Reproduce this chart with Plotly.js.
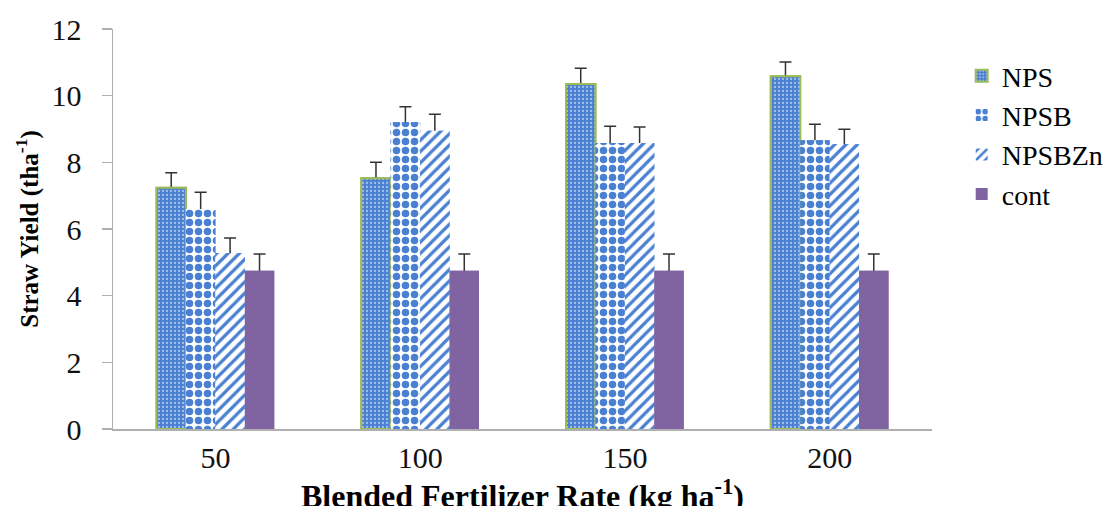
<!DOCTYPE html>
<html>
<head>
<meta charset="utf-8">
<script src="https://cdn.plot.ly/plotly-3.0.1.min.js"></script>
<style>
html,body{margin:0;padding:0;background:#fff;}
#chart{width:1120px;height:506px;}
</style>
</head>
<body>
<div id="chart"></div>
<script>
const categories = ["50", "100", "150", "200"];
const npsValues = [7.24, 7.52, 10.35, 10.58];
const npsbValues = [6.6, 9.2, 8.58, 8.66];
const npsbznValues = [5.28, 8.95, 8.58, 8.54];
const contValues = [4.75, 4.75, 4.75, 4.75];
const npsErr = [0.45, 0.48, 0.47, 0.43];
const npsbErr = [0.5, 0.47, 0.5, 0.48];
const npsbznErr = [0.45, 0.49, 0.48, 0.45];
const contErr = [0.5, 0.5, 0.5, 0.5];
const seriesNames = ["NPS", "NPSB", "NPSBZn", "cont"];
const xTitle = "<b>Blended Fertilizer Rate (kg ha<sup>-1</sup>)</b>";
const yTitle = "<b>Straw Yield (tha<sup>-1</sup>)</b>";

const blue = "#4a80d2";

const markers = [
  {color: blue, line: {color: "#9bbb59", width: 2},
   pattern: {shape: ".", fgcolor: "#ffffff", bgcolor: blue, size: 4, solidity: 0.25, fillmode: "overlay"}},
  {color: "#ffffff", line: {width: 0},
   pattern: {shape: ".", fgcolor: blue, bgcolor: "#ffffff", size: 9, solidity: 0.55, fillmode: "replace"}},
  {color: "#ffffff", line: {width: 0},
   pattern: {shape: "/", fgcolor: blue, bgcolor: "#ffffff", size: 8, solidity: 0.4, fillmode: "replace"}},
  {color: "#8064a2", line: {width: 0}}
];
const values = [npsValues, npsbValues, npsbznValues, contValues];
const errs = [npsErr, npsbErr, npsbznErr, contErr];

const traces = [];
// bottom layer: bars carrying the error bars (lower arm reaches the baseline, hidden by top layer)
for (let i = 0; i < 4; i++) {
  traces.push({type: "bar", name: seriesNames[i], x: categories, y: values[i], offsetgroup: String(i),
    marker: markers[i],
    error_y: {type: "data", symmetric: false, array: errs[i], arrayminus: values[i], visible: true,
      color: "#333333", thickness: 1.5, width: 6}});
}
// top layer: same bars drawn again, covering the lower arm of the error bars
for (let i = 0; i < 4; i++) {
  traces.push({type: "bar", name: seriesNames[i], x: categories, y: values[i], offsetgroup: String(i),
    marker: markers[i], showlegend: false});
}

const layout = {
  width: 1120, height: 506,
  margin: {l: 113, r: 187, t: 29, b: 77},
  paper_bgcolor: "#ffffff", plot_bgcolor: "#ffffff",
  barmode: "group", bargap: 0.425, bargroupgap: 0,
  font: {family: "Liberation Serif", size: 28},
  xaxis: {
    type: "category", showline: true, linecolor: "#b0b0b0", linewidth: 1.5,
    ticks: "", showgrid: false, zeroline: false,
    tickfont: {family: "Liberation Serif", size: 30, color: "#111111"},
    ticklabelstandoff: 1
  },
  yaxis: {
    range: [0, 12], dtick: 2, showline: true, linecolor: "#b0b0b0", linewidth: 1.5,
    ticks: "outside", ticklen: 10, tickcolor: "#b0b0b0", tickwidth: 1.5,
    showgrid: false, zeroline: false,
    tickfont: {family: "Liberation Serif", size: 30, color: "#111111"},
    ticklabelstandoff: 14,
    title: {text: yTitle, font: {family: "Liberation Serif", size: 25, color: "#000000"}, standoff: 6}
  },
  annotations: [{
    text: xTitle, xref: "paper", yref: "paper", x: 0.5, y: 0,
    xanchor: "center", yanchor: "middle", yshift: -65, showarrow: false,
    font: {family: "Liberation Serif", size: 32, color: "#000000"}
  }],
  legend: {
    x: 1.035, y: 0.945, xanchor: "left", yanchor: "top",
    font: {family: "Liberation Serif", size: 28, color: "#000000"},
    itemwidth: 30
  },
  showlegend: true
};

Plotly.newPlot("chart", traces, layout, {displayModeBar: false, staticPlot: true});
</script>
</body>
</html>
